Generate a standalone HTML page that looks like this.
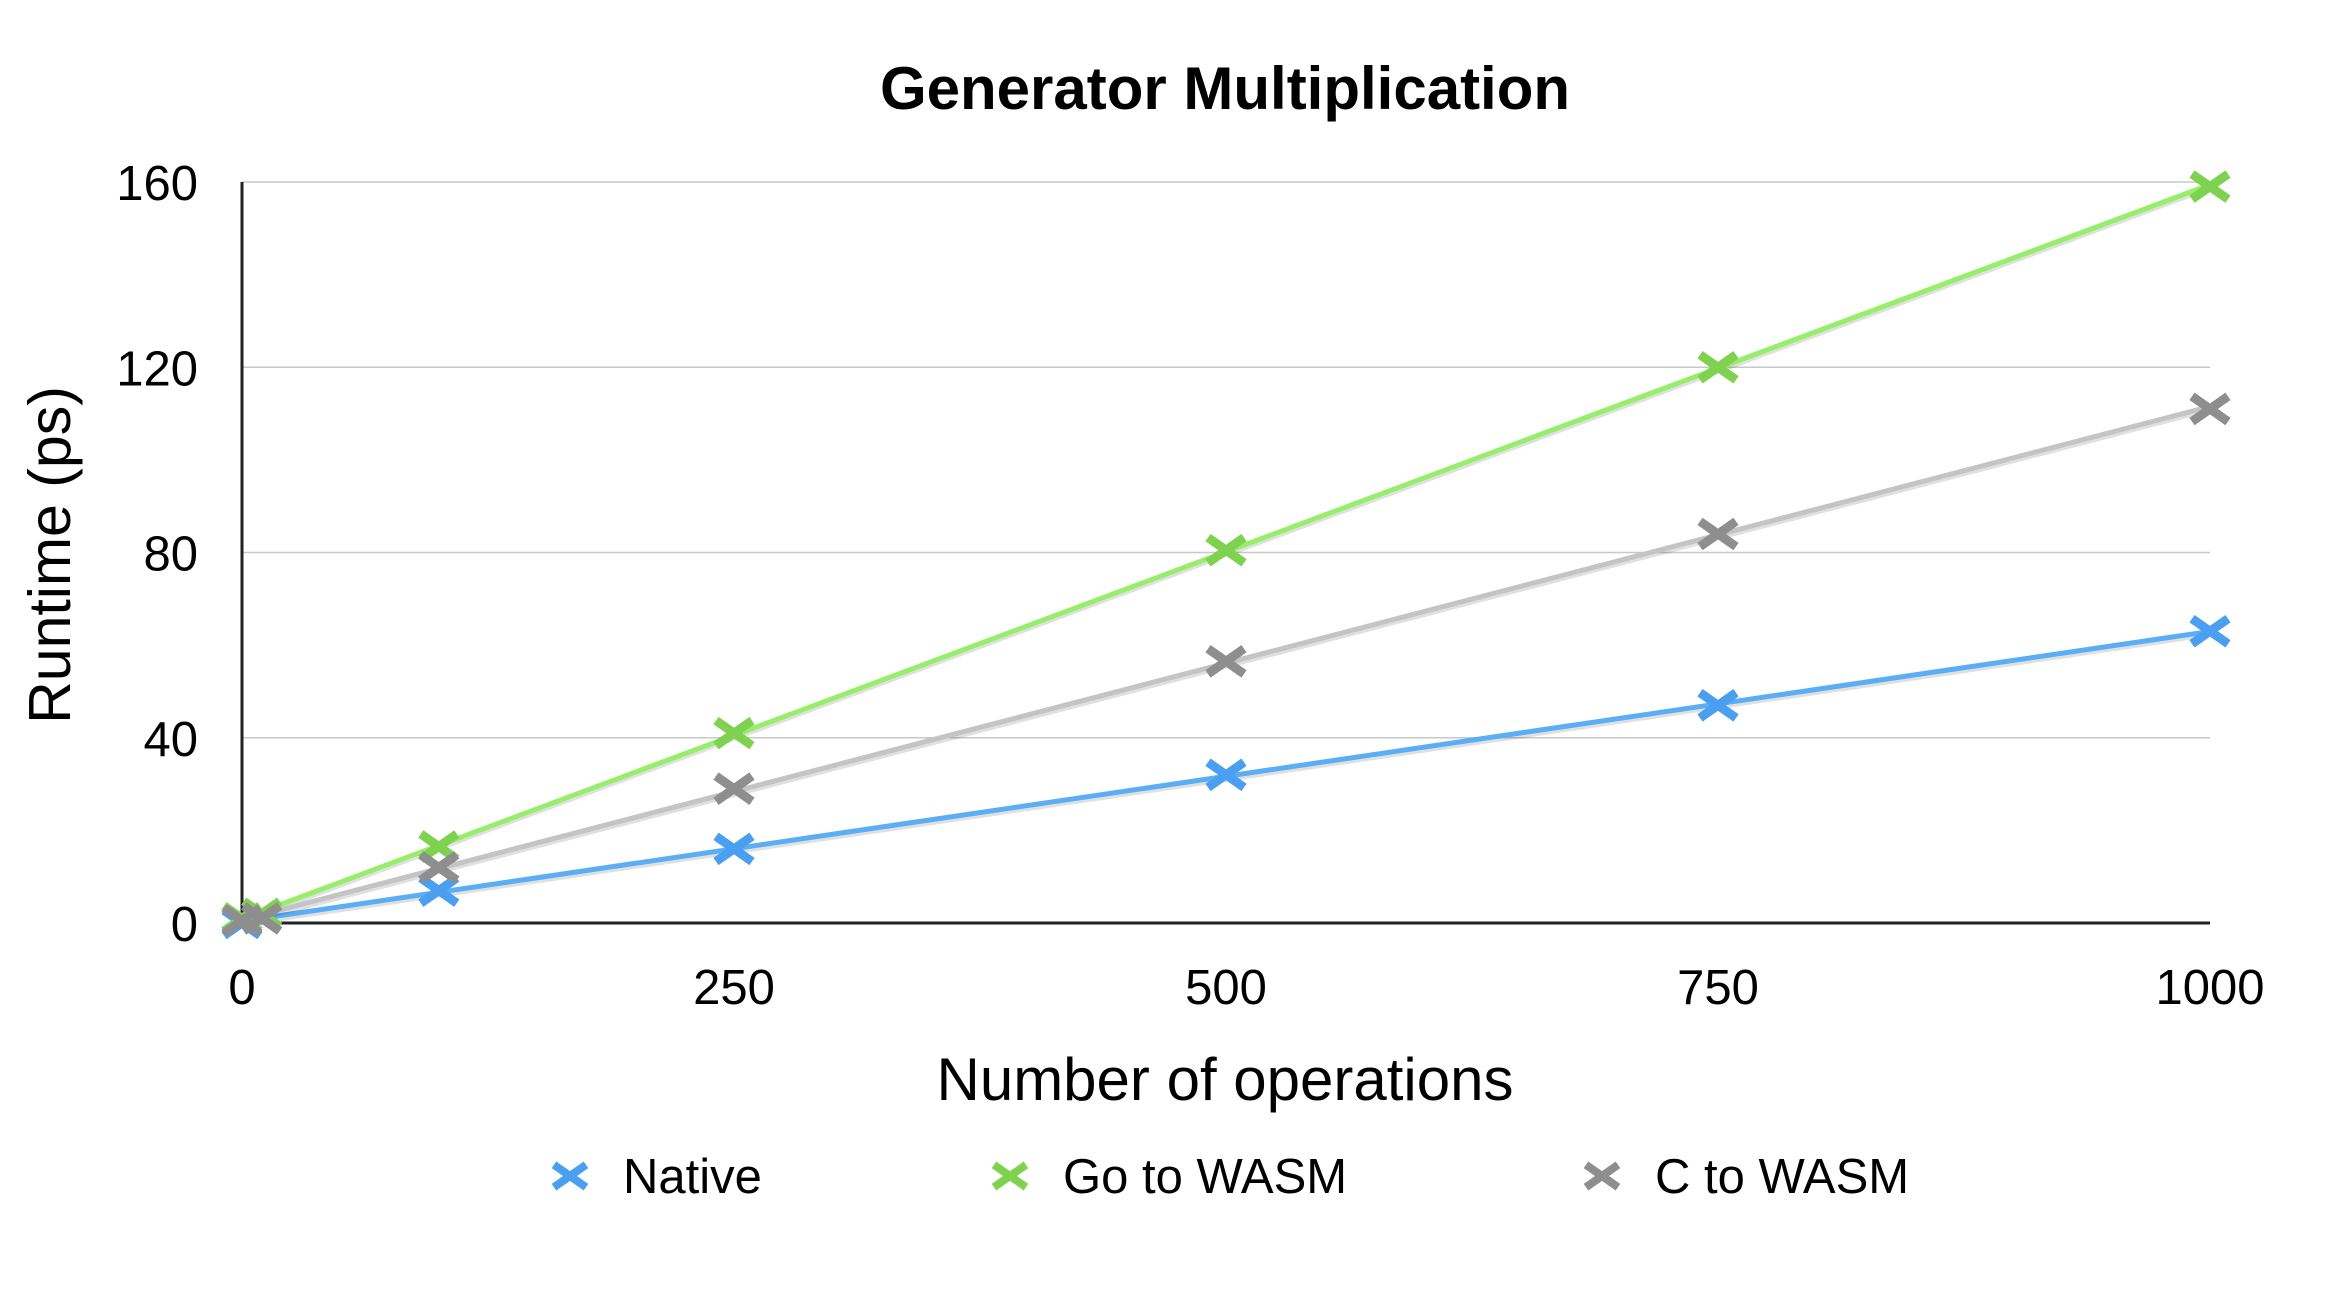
<!DOCTYPE html>
<html><head><meta charset="utf-8"><style>
body{margin:0;background:#fff;}
svg text{font-family:"Liberation Sans",Arial,sans-serif;fill:#000;}
</style></head><body>
<svg id="chart" width="2334" height="1298" viewBox="0 0 2334 1298" xmlns="http://www.w3.org/2000/svg">
<text x="1225" y="109" font-size="60" font-weight="bold" text-anchor="middle">Generator Multiplication</text>
<g id="grid"></g>
<g id="series"></g>
<text transform="translate(70,555) rotate(-90)" font-size="59" text-anchor="middle">Runtime (ps)</text>
<text x="1225" y="1100" font-size="60" text-anchor="middle">Number of operations</text>
<g id="legend"></g>
</svg>
<script>
const xValues = [0, 10, 100, 250, 500, 750, 1000];
const nativeValues = [0, 1, 7, 16, 32, 47, 63];
const goValues = [1, 2, 16.5, 41, 80.5, 120, 159];
const cValues = [0.5, 1, 12, 29, 56.5, 84, 111];
const xTicks = [0, 250, 500, 750, 1000];
const yTicks = [0, 40, 80, 120, 160];
const seriesNames = ["Native", "Go to WASM", "C to WASM"];

const NS = "http://www.w3.org/2000/svg";
const X0 = 242, X1 = 2210, Y0 = 923, Y1 = 182;
const xs = v => X0 + (v / 1000) * (X1 - X0);
const ys = v => Y0 - (v / 160) * (Y0 - Y1);
function mk(tag, attrs, parent) {
  const e = document.createElementNS(NS, tag);
  for (const k in attrs) e.setAttribute(k, attrs[k]);
  parent.appendChild(e);
  return e;
}
const grid = document.getElementById('grid');
yTicks.forEach(t => {
  if (t > 0) {
    const l = mk('line', {x1: X0, x2: X1, y1: ys(t), y2: ys(t), stroke: '#c8c8c8', 'stroke-width': 1.5}, grid);
    
    
  }
  const tx = mk('text', {x: 198, y: ys(t) + 18, 'font-size': 49, 'text-anchor': 'end'}, grid);
  tx.textContent = t;
  
  
});
xTicks.forEach(t => {
  const tx = mk('text', {x: xs(t), y: 1004, 'font-size': 49, 'text-anchor': 'middle'}, grid);
  tx.textContent = t;
  
  
});
const ya = mk('line', {x1: X0, x2: X0, y1: Y1, y2: Y0, stroke: '#222', 'stroke-width': 3}, grid);


const xa = mk('line', {x1: X0, x2: X1, y1: Y0, y2: Y0, stroke: '#222', 'stroke-width': 3}, grid);



const allValues = [nativeValues, goValues, cValues];
const lineColors = ['#5aaef5', '#96ee6a', '#c4c4c4'];
const markColors = ['#4a9ff0', '#7fd24f', '#8e8e8e'];
const sg = document.getElementById('series');
function cross(g, cx, cy, r, color, w) {
  const p = mk('path', {d: `M${cx-r},${cy-r*0.7}L${cx+r},${cy+r*0.7}M${cx-r},${cy+r*0.7}L${cx+r},${cy-r*0.7}`, stroke: color, 'stroke-width': w, 'stroke-linecap': 'butt', fill: 'none'}, g);
  return p;
}
allValues.forEach((vals, si) => {
  const n = xValues.length;
  let sx = 0, sy = 0, sxx = 0, sxy = 0;
  for (let i = 0; i < n; i++) { sx += xValues[i]; sy += vals[i]; sxx += xValues[i]*xValues[i]; sxy += xValues[i]*vals[i]; }
  const m = (n*sxy - sx*sy) / (n*sxx - sx*sx), b = (sy - m*sx) / n;
  const sh = mk('line', {x1: xs(0), y1: ys(b)+3, x2: xs(1000), y2: ys(b + m*1000)+3, stroke: 'rgba(0,0,0,0.12)', 'stroke-width': 5}, sg);
  
  
  const tl = mk('line', {x1: xs(0), y1: ys(b), x2: xs(1000), y2: ys(b + m*1000), stroke: lineColors[si], 'stroke-width': 5}, sg);
  
  
});
allValues.forEach((vals, si) => {
  vals.forEach((v, i) => {
    const p = cross(sg, xs(xValues[i]), ys(v), 18, markColors[si], 9);
    
    
  });
});
const lg = document.getElementById('legend');
const legX = [570, 1010, 1602];
seriesNames.forEach((name, i) => {
  const g = mk('g', {}, lg);
  
  
  const c = cross(g, legX[i], 1176, 16, markColors[i], 8);
  
  
  const t = mk('text', {x: legX[i] + 53, y: 1193, 'font-size': 49}, g);
  t.textContent = name;
  
  
});
</script>
</body></html>
